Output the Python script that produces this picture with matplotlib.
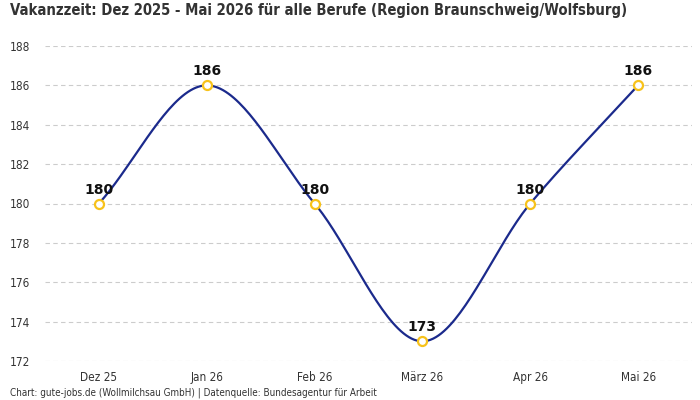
import matplotlib
matplotlib.use("Agg")
import matplotlib.pyplot as plt
import numpy as np

months = ["Dez 25", "Jan 26", "Feb 26", "März 26", "Apr 26", "Mai 26"]
vakanz = [180, 186, 180, 173, 180, 186]
y_ticks = [172, 174, 176, 178, 180, 182, 184, 186, 188]

title = "Vakanzzeit: Dez 2025 - Mai 2026 für alle Berufe (Region Braunschweig/Wolfsburg)"
footer = "Chart: gute-jobs.de (Wollmilchsau GmbH) | Datenquelle: Bundesagentur für Arbeit"


def monotone_path(y, steps=40):
    # Fritsch-Carlson monotone cubic, like the chart library's "monotone" mode
    y = np.asarray(y, float)
    n = len(y)
    d = np.diff(y)
    m = np.zeros(n)
    m[0], m[-1] = d[0], d[-1]
    for i in range(1, n - 1):
        if d[i - 1] * d[i] > 0:
            m[i] = (d[i - 1] + d[i]) / 2
    for i in range(n - 1):
        if d[i] == 0:
            m[i] = m[i + 1] = 0
            continue
        a, b = m[i] / d[i], m[i + 1] / d[i]
        s = a * a + b * b
        if s > 9:
            t = 3 / np.sqrt(s)
            m[i], m[i + 1] = t * a * d[i], t * b * d[i]
    xs, ys = [], []
    for i in range(n - 1):
        t = np.linspace(0, 1, steps, endpoint=(i == n - 2))
        h00 = 2 * t**3 - 3 * t**2 + 1
        h10 = t**3 - 2 * t**2 + t
        h01 = -2 * t**3 + 3 * t**2
        h11 = t**3 - t**2
        xs.append(i + t)
        ys.append(h00 * y[i] + h10 * m[i] + h01 * y[i + 1] + h11 * m[i + 1])
    return np.concatenate(xs), np.concatenate(ys)


fig = plt.figure(figsize=(7, 4), dpi=100)
ax = fig.add_axes([45 / 700, 1 - 361 / 400, 647 / 700, 315 / 400])

x = np.arange(len(months))
cx, cy = monotone_path(vakanz)
ax.plot(cx, cy, color="#1b2a8c", lw=1.6, zorder=3)
ax.plot(x, vakanz, "o", ms=6.5, mfc="white", mec="#f7c21b", mew=1.6, zorder=4)

for xi, v in zip(x, vakanz):
    ax.annotate(str(v), (xi, v), xytext=(0, 5), textcoords="offset points",
                ha="center", va="bottom", fontsize=10, fontweight="bold",
                color="#111111", zorder=5)

ax.set_xlim(-0.5, len(months) - 0.5)
ax.set_ylim(172, 188)
ax.set_yticks(y_ticks)
ax.set_xticks(x)
ax.set_xticklabels(months)
ax.grid(axis="y", color="#cccccc", ls=(0, (4, 3)), lw=0.8)
ax.set_axisbelow(True)
for s in ax.spines.values():
    s.set_visible(False)
ax.tick_params(axis="x", length=0, labelsize=8.5, colors="#333333", pad=7)
ax.tick_params(axis="y", length=0, labelsize=8.5, colors="#333333", pad=0)
for lab in ax.get_xticklabels() + ax.get_yticklabels():
    lab.set_stretch("condensed")
for lab in ax.get_yticklabels():
    lab.set_horizontalalignment("left")
    lab.set_x(-35 / 647)

t = fig.text(10 / 700, 1 - 10 / 400, title, ha="left", va="center", fontsize=12.5,
             fontweight="bold", color="#333333", stretch="condensed")
f = fig.text(10 / 700, 1 - 393 / 400, footer, ha="left", va="center", fontsize=7,
             color="#333333", stretch="condensed")

# fit widths to the reference (title ~620 px, footer ~367 px)
r = fig.canvas.get_renderer()
for txt, target in ((t, 620), (f, 367)):
    w = txt.get_window_extent(r).width
    txt.set_fontsize(txt.get_fontsize() * target / w)

fig.savefig("out.png", dpi=100)
